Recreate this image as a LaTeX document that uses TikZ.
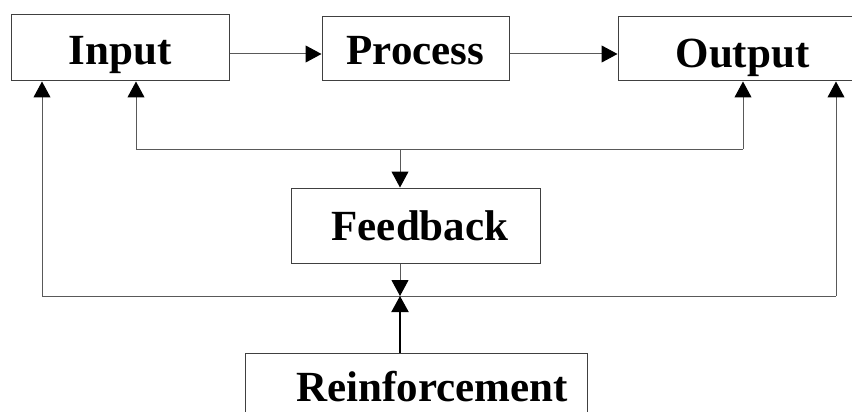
\documentclass[tikz,border=0pt]{standalone}
\usepackage{fontspec}
\setmainfont{Liberation Serif}
\usetikzlibrary{arrows.meta}
\begin{document}
\begin{tikzpicture}[x=1pt,y=-1pt,
  box/.style={draw=black!75, line width=1pt, inner sep=0pt, anchor=base,
    font=\fontsize{43}{50}\selectfont\bfseries},
  conn/.style={draw=black!65, line width=1pt},
  arr/.style={conn, -{Triangle[length=16pt,width=17pt,fill=black,color=black]}}]
\useasboundingbox (0,0) rectangle (852,412);
\clip (0,0) rectangle (852,412);
\node[box, minimum width=218pt, text height=50pt, text depth=16pt] (in) at (120,65) {Input};
\node[box, minimum width=187pt, text height=48pt, text depth=16pt] (pr) at (415.5,65) {Process};
\node[box, minimum width=249pt, text height=50pt, text depth=14pt] (out) at (742.5,67) {Output};
\node[box, minimum width=249pt, text height=52pt, text depth=23pt] (fb) at (415.5,240) {\hspace*{9pt}Feedback};
\node[box, minimum width=342pt, text height=48pt, text depth=30pt] (re) at (416,401) {\hspace*{32pt}Reinforcement};
\coordinate (r1) at (0,54);
\coordinate (il) at (136,149);
\coordinate (ir) at (743,149);
\coordinate (fc) at (400,149);
\coordinate (bl) at (42,296);
\coordinate (br) at (836,296);
\coordinate (bc) at (400,296);
\draw[arr] (in.east |- r1) -- (pr.west |- r1);
\draw[arr] (pr.east |- r1) -- (out.west |- r1);
\draw[arr] (il) -- (in.south -| il);
\draw[conn] (il) -- (ir);
\draw[arr] (ir) -- (out.south -| ir);
\draw[arr] (fc) -- (fb.north -| fc);
\draw[arr] (fb.south -| bc) -- (bc);
\draw[conn] (bl) -- (br);
\draw[arr] (bl) -- (in.south -| bl);
\draw[arr] (br) -- (out.south -| br);
\draw[arr, draw=black, line width=2pt] (re.north -| bc) -- (bc);
\end{tikzpicture}
\end{document}
